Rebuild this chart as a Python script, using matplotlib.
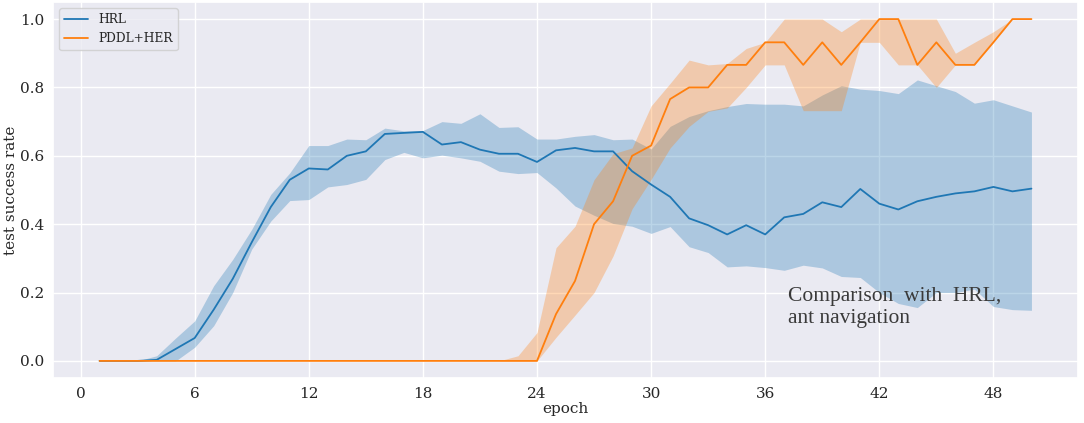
import numpy as np
import matplotlib
matplotlib.use("Agg")
import matplotlib.pyplot as plt
import seaborn as sns

sns.set_theme(style="darkgrid")
plt.rcParams['font.family'] = ['DejaVu Serif']

epochs = list(range(1, 51))

hrl_mean = [0, 0, 0, 0.003, 0.035, 0.067, 0.15, 0.24, 0.347, 0.45,
            0.53, 0.563, 0.56, 0.60, 0.613, 0.664, 0.667, 0.67, 0.633, 0.64,
            0.618, 0.606, 0.606, 0.582, 0.616, 0.623, 0.613, 0.613, 0.555, 0.516,
            0.48, 0.417, 0.397, 0.37, 0.397, 0.37, 0.42, 0.43, 0.464, 0.45,
            0.503, 0.46, 0.443, 0.467, 0.48, 0.49, 0.496, 0.509, 0.496, 0.504]
hrl_upper = [0, 0, 0, 0.015, 0.067, 0.117, 0.22, 0.297, 0.385, 0.487,
             0.55, 0.63, 0.63, 0.649, 0.647, 0.681, 0.673, 0.674, 0.70, 0.695,
             0.723, 0.683, 0.685, 0.649, 0.649, 0.657, 0.662, 0.647, 0.649, 0.62,
             0.686, 0.715, 0.732, 0.744, 0.753, 0.751, 0.751, 0.746, 0.778, 0.805,
             0.795, 0.791, 0.782, 0.822, 0.805, 0.788, 0.754, 0.764, 0.746, 0.728]
hrl_lower = [0, 0, 0, 0, 0, 0.04, 0.103, 0.2, 0.327, 0.409,
             0.469, 0.472, 0.509, 0.516, 0.531, 0.589, 0.61, 0.594, 0.602, 0.594,
             0.584, 0.555, 0.548, 0.551, 0.506, 0.453, 0.426, 0.402, 0.394, 0.373,
             0.393, 0.334, 0.317, 0.275, 0.278, 0.273, 0.265, 0.28, 0.272, 0.247,
             0.244, 0.2, 0.168, 0.156, 0.2, 0.2, 0.21, 0.159, 0.15, 0.148]

pddl_mean = [0] * 24 + [0.137, 0.234, 0.40, 0.467, 0.60, 0.63,
             0.766, 0.80, 0.80, 0.866, 0.866, 0.932, 0.932, 0.866, 0.932, 0.866,
             0.932, 1.0, 1.0, 0.866, 0.932, 0.866, 0.866, 0.932, 1.0, 1.0]
pddl_upper = [0] * 22 + [0.015, 0.083, 0.331, 0.394, 0.53, 0.606, 0.623, 0.746,
              0.812, 0.88, 0.866, 0.87, 0.914, 0.932, 1.0, 1.0, 1.0, 0.963,
              1.0, 1.0, 1.0, 1.0, 1.0, 0.9, 0.932, 0.963, 1.0, 1.0]
pddl_lower = [0] * 24 + [0.069, 0.134, 0.2, 0.307, 0.445, 0.531,
              0.623, 0.686, 0.73, 0.74, 0.80, 0.866, 0.866, 0.732, 0.732, 0.732,
              0.932, 0.932, 0.866, 0.866, 0.80, 0.866, 0.866, 0.932, 1.0, 1.0]

labels = ["HRL", "PDDL+HER"]
xticks = [0, 6, 12, 18, 24, 30, 36, 42, 48]

fig = plt.figure(figsize=(10.84, 4.23), dpi=100)
ax = fig.add_axes([0.0489, 0.1064, 0.9456, 0.8889])

c0, c1 = "#1f77b4", "#ff7f0e"
ax.fill_between(epochs, hrl_lower, hrl_upper, color=c0, alpha=0.3, linewidth=0)
ax.plot(epochs, hrl_mean, color=c0, lw=1.3, label=labels[0])
ax.fill_between(epochs, pddl_lower, pddl_upper, color=c1, alpha=0.3, linewidth=0)
ax.plot(epochs, pddl_mean, color=c1, lw=1.3, label=labels[1])

ax.set_xlim(-1.45, 52.45)
ax.set_ylim(-0.05, 1.05)
ax.set_xticks(xticks)
ax.set_yticks([0.0, 0.2, 0.4, 0.6, 0.8, 1.0])
ax.set_yticklabels(["0.0", "0.2", "0.4", "0.6", "0.8", "1.0"])
ax.tick_params(labelsize=11, length=0, pad=6.5)
ax.set_xlabel("epoch", fontsize=11, labelpad=1)
ax.set_ylabel("test success rate", fontsize=11)
ax.yaxis.set_label_coords(-0.034, 0.5)

ax.legend(loc="upper left", fontsize=8.8, frameon=True)

ax.text(37.2, 0.11, "Comparison  with  HRL,\nant navigation",
        fontfamily="Liberation Serif", fontsize=15.5, color="#3a3a3a",
        ha="left", va="baseline", linespacing=1.25)

fig.savefig("out.png", dpi=100)
